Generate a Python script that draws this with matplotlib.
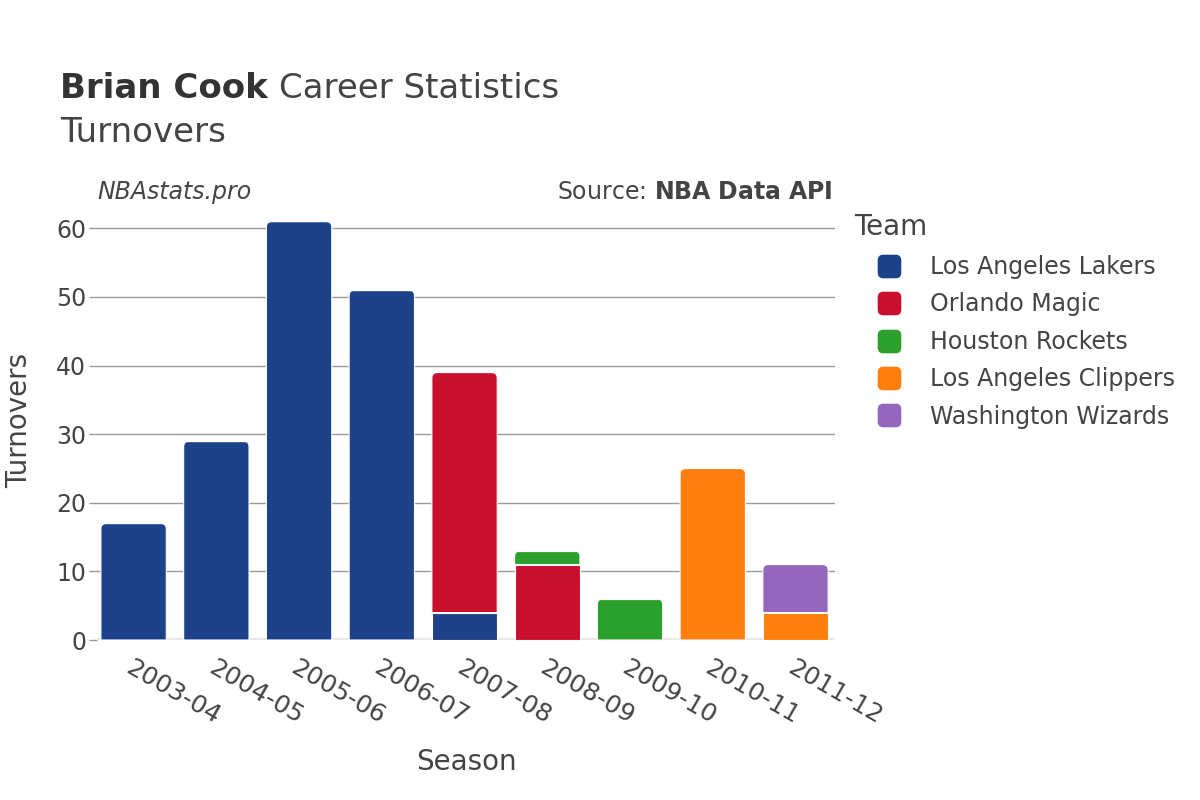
import matplotlib.pyplot as plt
import numpy as np
from matplotlib.patches import FancyBboxPatch, PathPatch
from matplotlib.path import Path
from matplotlib.lines import Line2D

# Data
seasons = ['2003-04', '2004-05', '2005-06', '2006-07', '2007-08',
           '2008-09', '2009-10', '2010-11', '2011-12']
teams = ['Los Angeles Lakers', 'Orlando Magic', 'Houston Rockets',
         'Los Angeles Clippers', 'Washington Wizards']
lakers = [17, 29, 61, 51, 4, 0, 0, 0, 0]
magic = [0, 0, 0, 0, 35, 11, 0, 0, 0]
rockets = [0, 0, 0, 0, 0, 2, 6, 0, 0]
clippers = [0, 0, 0, 0, 0, 0, 0, 25, 4]
wizards = [0, 0, 0, 0, 0, 0, 0, 0, 7]
team_colors = ['#1d428a', '#c8102e', '#2ca02c', '#ff7f0e', '#9467bd']

text_color = '#444444'
plt.rcParams['font.family'] = ['DejaVu Sans']


def rounded_top(x0, y0, w, h, rx, ry):
    # rectangle path with only the two top corners rounded
    x1, y1 = x0 + w, y0 + h
    ry = min(ry, h)
    verts = [(x0, y0), (x1, y0), (x1, y1 - ry), (x1, y1), (x1 - rx, y1),
             (x0 + rx, y1), (x0, y1), (x0, y1 - ry), (x0, y0)]
    codes = [Path.MOVETO, Path.LINETO, Path.LINETO, Path.CURVE3, Path.CURVE3,
             Path.LINETO, Path.CURVE3, Path.CURVE3, Path.CLOSEPOLY]
    return Path(verts, codes)


fig = plt.figure(figsize=(12, 8), dpi=100)
ax = fig.add_axes([0.081, 0.2, 0.615, 0.548])

x = np.arange(len(seasons))
width = 0.79
series = [lakers, magic, rockets, clippers, wizards]
bottom = np.zeros(len(seasons))
totals = np.sum(series, axis=0)

for vals, color in zip(series, team_colors):
    vals = np.array(vals, dtype=float)
    bars = ax.bar(x, vals, width, bottom=bottom, color=color,
                  edgecolor='white', linewidth=0.8, zorder=3)
    for i, rect in enumerate(bars):
        if vals[i] > 0 and bottom[i] + vals[i] == totals[i]:
            # top of the stack gets rounded corners
            rect.set_visible(False)
            path = rounded_top(rect.get_x(), rect.get_y(), rect.get_width(),
                               rect.get_height(), 0.07, 0.8)
            ax.add_patch(PathPatch(path, facecolor=color, edgecolor='white',
                                   linewidth=0.8, zorder=3))
    bottom += vals

ax.set_xlim(-0.44, 8.48)
ax.set_ylim(0, 63.9)
ax.set_yticks([0, 10, 20, 30, 40, 50, 60])
ax.yaxis.grid(True, color='#9a9a9a', linewidth=1)
ax.set_axisbelow(True)
ax.axhline(0, color='#e8e8e8', linewidth=3, zorder=2)
for s in ax.spines.values():
    s.set_visible(False)
ax.tick_params(axis='y', labelsize=17, labelcolor=text_color)
ax.tick_params(axis='x', labelsize=18, labelcolor=text_color)
ax.tick_params(axis='y', length=6, color='#9a9a9a', width=1, pad=2)
ax.tick_params(axis='x', length=0, pad=11)
ax.set_xticks(x)
ax.set_xticklabels(seasons, rotation=-30, ha='left', va='top',
                   rotation_mode='anchor')

ax.set_xlabel('Season', fontsize=20, color=text_color, labelpad=14)
ax.set_ylabel('Turnovers', fontsize=20, color=text_color, labelpad=16)

t1 = fig.text(0.05, 0.89, 'Brian Cook', fontsize=24.5, fontweight='bold',
              color='#333333', va='center')
fig.canvas.draw()
bb = t1.get_window_extent().transformed(fig.transFigure.inverted())
fig.text(bb.x1 + 0.009, 0.89, 'Career Statistics', fontsize=24.5,
         color=text_color, va='center')
fig.text(0.05, 0.835, 'Turnovers', fontsize=24.5, color=text_color,
         va='center')
fig.text(0.081, 0.76, 'NBAstats.pro', fontsize=17, style='italic',
         color=text_color, va='center')
fig.text(0.694, 0.76, 'Source: $\\bf{NBA\\ Data\\ API}$', fontsize=17,
         color=text_color, va='center', ha='right')

# rounded square legend markers
box = FancyBboxPatch((-0.5, -0.5), 1, 1,
                     boxstyle='round,pad=0,rounding_size=0.22')
marker_path = box.get_path()
handles = [Line2D([], [], linestyle='none', marker=marker_path,
                  markersize=16, markerfacecolor=c, markeredgecolor=c,
                  label=t) for t, c in zip(teams, team_colors)]
leg = fig.legend(handles=handles, title='Team', loc='upper left',
                 bbox_to_anchor=(0.704, 0.745), frameon=False,
                 fontsize=17, title_fontsize=20, labelspacing=0.57,
                 handletextpad=0.25, handlelength=2.95, borderaxespad=0)
leg._legend_box.align = 'left'
for t in leg.get_texts():
    t.set_color(text_color)
leg.get_title().set_color(text_color)

fig.savefig('out.png', dpi=100)
